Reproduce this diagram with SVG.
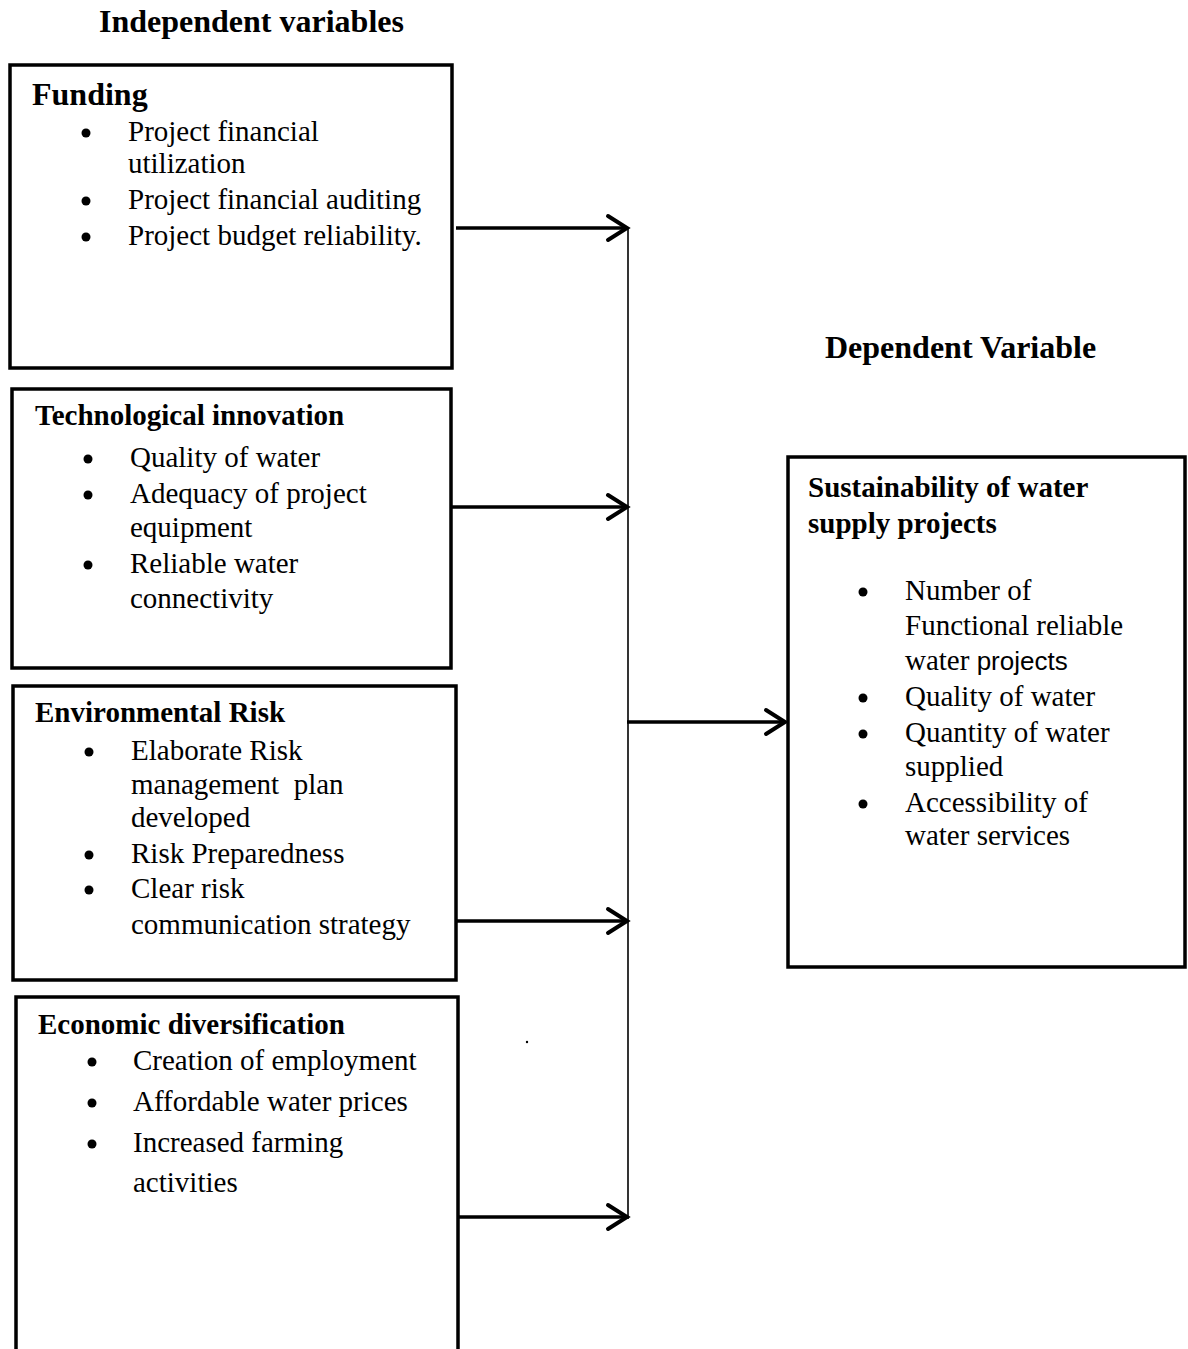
<svg xmlns="http://www.w3.org/2000/svg" width="1188" height="1349" viewBox="0 0 1188 1349">
<style>
.hd{font-family:"Liberation Serif","Times New Roman",serif;font-weight:bold;font-size:32px;fill:#000}
.tt{font-family:"Liberation Serif","Times New Roman",serif;font-weight:bold;font-size:29px;fill:#000}
.tx{font-family:"Liberation Serif","Times New Roman",serif;font-size:29px;fill:#000}
.sans{font-family:"Liberation Sans",Arial,sans-serif;font-size:26px}
.box{fill:#fff;stroke:#000;stroke-width:3.5}
.arr{fill:none;stroke:#000;stroke-width:3.5}
.thin{fill:none;stroke:#000;stroke-width:1.6}
.bul{fill:#000}
</style>
<defs>
<marker id="ah" markerWidth="26" markerHeight="30" refX="22" refY="15" orient="auto" markerUnits="userSpaceOnUse" viewBox="0 0 26 30">
<path d="M3,3 L22,15 L3,27" fill="none" stroke="#000" stroke-width="4" stroke-linecap="round" stroke-linejoin="miter"/>
</marker>
</defs>
<rect width="1188" height="1349" fill="#fff"/>

<text class="hd" x="99" y="32">Independent variables</text>
<text class="hd" x="825" y="358">Dependent Variable</text>

<g id="funding">
<rect class="box" x="10" y="65" width="442" height="303"/>
<text class="hd" x="32" y="105">Funding</text>
<circle class="bul" cx="86" cy="133" r="4.5"/>
<text class="tx" x="128" y="141">Project financial</text>
<text class="tx" x="128" y="173">utilization</text>
<circle class="bul" cx="86" cy="201" r="4.5"/>
<text class="tx" x="128" y="209">Project financial auditing</text>
<circle class="bul" cx="86" cy="237" r="4.5"/>
<text class="tx" x="128" y="245">Project budget reliability.</text>
</g>

<g id="technological">
<rect class="box" x="12" y="389" width="439" height="279"/>
<text class="tt" x="35" y="425">Technological innovation</text>
<circle class="bul" cx="88" cy="459" r="4.5"/>
<text class="tx" x="130" y="467">Quality of water</text>
<circle class="bul" cx="88" cy="495" r="4.5"/>
<text class="tx" x="130" y="503">Adequacy of project</text>
<text class="tx" x="130" y="537">equipment</text>
<circle class="bul" cx="88" cy="565" r="4.5"/>
<text class="tx" x="130" y="573">Reliable water</text>
<text class="tx" x="130" y="608">connectivity</text>
</g>

<g id="environmental">
<rect class="box" x="13" y="686" width="443" height="294"/>
<text class="tt" x="35" y="722">Environmental Risk</text>
<circle class="bul" cx="89" cy="752" r="4.5"/>
<text class="tx" x="131" y="760">Elaborate Risk</text>
<text class="tx" x="131" y="794" xml:space="preserve">management  plan</text>
<text class="tx" x="131" y="827">developed</text>
<circle class="bul" cx="89" cy="855" r="4.5"/>
<text class="tx" x="131" y="863">Risk Preparedness</text>
<circle class="bul" cx="89" cy="890" r="4.5"/>
<text class="tx" x="131" y="898">Clear risk</text>
<text class="tx" x="131" y="934">communication strategy</text>
</g>

<g id="economic">
<path class="box" d="M16,1360 L16,997 L458,997 L458,1360"/>
<text class="tt" x="38" y="1034">Economic diversification</text>
<circle class="bul" cx="92" cy="1062" r="4.5"/>
<text class="tx" x="133" y="1070">Creation of employment</text>
<circle class="bul" cx="92" cy="1103" r="4.5"/>
<text class="tx" x="133" y="1111">Affordable water prices</text>
<circle class="bul" cx="92" cy="1144" r="4.5"/>
<text class="tx" x="133" y="1152">Increased farming</text>
<text class="tx" x="133" y="1192">activities</text>
</g>

<g id="sustainability">
<rect class="box" x="788" y="457" width="397" height="510"/>
<text class="tt" x="808" y="497">Sustainability of water</text>
<text class="tt" x="808" y="533">supply projects</text>
<circle class="bul" cx="863" cy="592" r="4.5"/>
<text class="tx" x="905" y="600">Number of</text>
<text class="tx" x="905" y="635">Functional reliable</text>
<text class="tx" x="905" y="670">water <tspan class="sans">projects</tspan></text>
<circle class="bul" cx="863" cy="698" r="4.5"/>
<text class="tx" x="905" y="706">Quality of water</text>
<circle class="bul" cx="863" cy="734" r="4.5"/>
<text class="tx" x="905" y="742">Quantity of water</text>
<text class="tx" x="905" y="776">supplied</text>
<circle class="bul" cx="863" cy="804" r="4.5"/>
<text class="tx" x="905" y="812">Accessibility of</text>
<text class="tx" x="905" y="845">water services</text>
</g>

<g id="connectors">
<line class="thin" x1="628" y1="227" x2="628" y2="1219"/>
<line class="arr" x1="456" y1="228" x2="627" y2="228" marker-end="url(#ah)"/>
<line class="arr" x1="452" y1="507" x2="627" y2="507" marker-end="url(#ah)"/>
<line class="arr" x1="456" y1="921" x2="627" y2="921" marker-end="url(#ah)"/>
<line class="arr" x1="459" y1="1217" x2="627" y2="1217" marker-end="url(#ah)"/>
<line class="arr" x1="627" y1="722" x2="785" y2="722" marker-end="url(#ah)"/>
</g>
<circle cx="527" cy="1042" r="1.2" fill="#000"/>
</svg>
